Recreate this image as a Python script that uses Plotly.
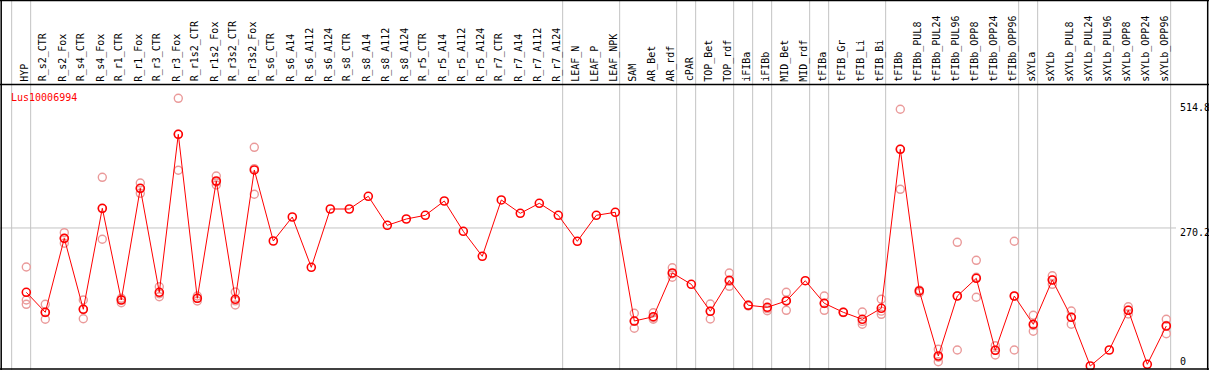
import plotly.graph_objects as go

gene = "Lus10006994"

categories = [
    "HYP", "R_s2_CTR", "R_s2_Fox", "R_s4_CTR", "R_s4_Fox", "R_r1_CTR", "R_r1_Fox",
    "R_r3_CTR", "R_r3_Fox", "R_r1s2_CTR", "R_r1s2_Fox", "R_r3s2_CTR", "R_r3s2_Fox",
    "R_s6_CTR", "R_s6_A14", "R_s6_A112", "R_s6_A124", "R_s8_CTR", "R_s8_A14",
    "R_s8_A112", "R_s8_A124", "R_r5_CTR", "R_r5_A14", "R_r5_A112", "R_r5_A124",
    "R_r7_CTR", "R_r7_A14", "R_r7_A112", "R_r7_A124", "LEAF_N", "LEAF_P", "LEAF_NPK",
    "SAM", "AR_Bet", "AR_rdf", "cPAR", "TOP_Bet", "TOP_rdf", "iFIBa", "iFIBb",
    "MID_Bet", "MID_rdf", "tFIBa", "tFIB_Gr", "tFIB_Li", "tFIB_Bi", "tFIBb",
    "tFIBb_PUL8", "tFIBb_PUL24", "tFIBb_PUL96", "tFIBb_OPP8", "tFIBb_OPP24",
    "tFIBb_OPP96", "sXYLa", "sXYLb", "sXYLb_PUL8", "sXYLb_PUL24", "sXYLb_PUL96",
    "sXYLb_OPP8", "sXYLb_OPP24", "sXYLb_OPP96",
]

mean_values = [
    144.7, 105.7, 250.0, 111.6, 308.6, 129.7, 347.6, 144.7, 452.9, 133.0, 361.8,
    131.1, 383.3, 244.8, 291.6, 193.5, 307.2, 307.2, 332.0, 275.4, 287.7, 294.9,
    322.8, 263.7, 214.9, 324.8, 298.8, 318.3, 294.9, 244.2, 294.9, 300.8,
    88.7, 97.1, 182.4, 160.3, 107.7, 168.1, 119.4, 115.5, 127.8, 167.3, 123.3,
    105.7, 92.1, 113.5, 423.6, 147.3, 20.5, 137.5, 172.0, 31.6, 137.5, 82.3,
    168.7, 96.0, 1.0, 32.2, 109.6, 4.3, 79.0,
]

replicate_values = [
    [194.0, 129.7, 121.3], [121.3, 92.1, 105.0], [261.0, 240.3, 250.0],
    [129.7, 93.2, 112.0], [369.0, 248.1, 308.0], [133.0, 124.4, 130.0],
    [357.9, 337.8, 347.0], [155.6, 136.1, 142.0], [523.1, 382.7, 453.0],
    [137.5, 127.8, 133.0], [371.6, 354.0, 360.0], [145.3, 120.0, 128.0],
    [427.5, 335.9, 386.0],
    [], [], [], [], [], [], [], [], [], [], [], [], [], [], [], [], [], [], [],
    [103.8, 74.5, 88.0], [104.9, 92.1, 95.0], [192.7, 174.0, 181.0], [],
    [121.9, 92.6, 108.0], [182.4, 156.4, 166.0], [120.0, 118.0],
    [124.4, 108.8, 113.0], [144.7, 109.6, 129.0], [], [137.5, 109.6, 123.0],
    [106.0, 105.0], [106.3, 82.3, 88.0], [131.1, 101.8, 108.0],
    [501.7, 345.6, 424.0], [149.0, 144.0], [33.5, 9.4, 18.0],
    [242.2, 32.2, 138.0], [207.1, 135.0, 174.0], [40.6, 22.4, 32.0],
    [244.2, 32.2, 137.0], [99.9, 68.7, 80.0], [177.1, 160.3, 169.0],
    [108.3, 82.3, 96.0], [], [], [116.6, 102.4, 110.0], [], [92.1, 64.0, 80.0],
]

# number of consecutive samples in each tissue group (separated by grey lines)
group_sizes = [1, 28, 3, 3, 1, 2, 1, 1, 2, 1, 3, 7, 1, 7]

y_ticks = [0, 270.2, 514.8]
y_tick_labels = ["0", "270.2", "514.8"]

# ---------------------------------------------------------------- layout maths
W, H = 1209, 370
HEADER = 84.5          # px height of the label header
X0, DX = 26.3, 19.0    # px of first category, px per category
Y0, KY = 366.5, 0.5127  # px of value 0, px per unit

idx = list(range(len(categories)))
x_range = [(0 - X0) / DX, (W - X0) / DX]
y_range = [(Y0 - H) / KY, Y0 / KY]

FONT = "DejaVu Sans Mono, Liberation Mono, monospace"
GREY = "#c3c3c3"

fig = go.Figure()

rx, ry = [], []
for i, reps in zip(idx, replicate_values):
    for v in reps:
        rx.append(i)
        ry.append(v)

fig.add_trace(go.Scatter(
    x=rx, y=ry, mode="markers", hoverinfo="skip",
    marker=dict(symbol="circle-open", size=8, color="#ea9a9a",
                line=dict(width=1.4, color="#ea9a9a")),
))
fig.add_trace(go.Scatter(
    x=idx, y=mean_values, mode="lines+markers",
    line=dict(color="#ff0000", width=1),
    marker=dict(symbol="circle-open", size=8, color="#ff0000",
                line=dict(width=1.6, color="#ff0000")),
))

shapes = []
# vertical group separators
pos = -1
bounds = [pos]
for g in group_sizes:
    pos += g
    bounds.append(pos)
for b in bounds:
    shapes.append(dict(type="line", xref="x", yref="paper",
                       x0=b + 0.23, x1=b + 0.23, y0=0, y1=1,
                       line=dict(color=GREY, width=1), layer="below"))
# horizontal grid at middle tick
shapes.append(dict(type="line", xref="paper", yref="y",
                   x0=0, x1=1176 / W, y0=y_ticks[1], y1=y_ticks[1],
                   line=dict(color=GREY, width=1), layer="below"))
# black frame and header separator
blk = dict(color="#000000", width=1.5)
shapes += [
    dict(type="line", xref="paper", yref="paper", x0=0, x1=1, y0=1 - 0.6 / H, y1=1 - 0.6 / H, line=blk),
    dict(type="line", xref="paper", yref="paper", x0=0, x1=1, y0=1 - HEADER / H, y1=1 - HEADER / H, line=blk),
    dict(type="line", xref="paper", yref="paper", x0=0, x1=1, y0=1 - 369 / H, y1=1 - 369 / H, line=blk),
    dict(type="line", xref="paper", yref="paper", x0=1.2 / W, x1=1.2 / W, y0=0, y1=1, line=blk),
    dict(type="line", xref="paper", yref="paper", x0=1207.7 / W, x1=1207.7 / W, y0=0, y1=1, line=blk),
]

annotations = []
for i, name in zip(idx, categories):
    annotations.append(dict(
        x=i, y=1 - 83.5 / H, xref="x", yref="paper", text=name, showarrow=False,
        textangle=-90, xanchor="center", yanchor="bottom", xshift=-2,
        font=dict(family=FONT, size=10, color="#000000"),
    ))
for v, t in zip(y_ticks, y_tick_labels):
    annotations.append(dict(
        x=1177.5 / W, y=v, xref="paper", yref="y", text=t, showarrow=False,
        xanchor="left", yanchor="middle", yshift=(4.8 if v == 0 else -4.7),
        font=dict(family=FONT, size=10, color="#000000"),
    ))
annotations.append(dict(
    x=8.5 / W, y=1 - 97 / H, xref="paper", yref="paper", text=gene, showarrow=False,
    xanchor="left", yanchor="middle",
    font=dict(family=FONT, size=10, color="#ff0000"),
))

fig.update_layout(
    width=W, height=H, margin=dict(l=0, r=0, t=0, b=0, pad=0),
    paper_bgcolor="#ffffff", plot_bgcolor="#ffffff", showlegend=False,
    xaxis=dict(range=x_range, showgrid=False, zeroline=False, showticklabels=False,
               ticks="", showline=False, fixedrange=True),
    yaxis=dict(range=y_range, showgrid=False, zeroline=False, showticklabels=False,
               ticks="", showline=False, fixedrange=True),
    shapes=shapes, annotations=annotations,
)

fig.write_html(
    "out.html",
    config={"displayModeBar": False},
    post_script="document.body.style.margin='0px';document.body.style.overflow='hidden';",
)
